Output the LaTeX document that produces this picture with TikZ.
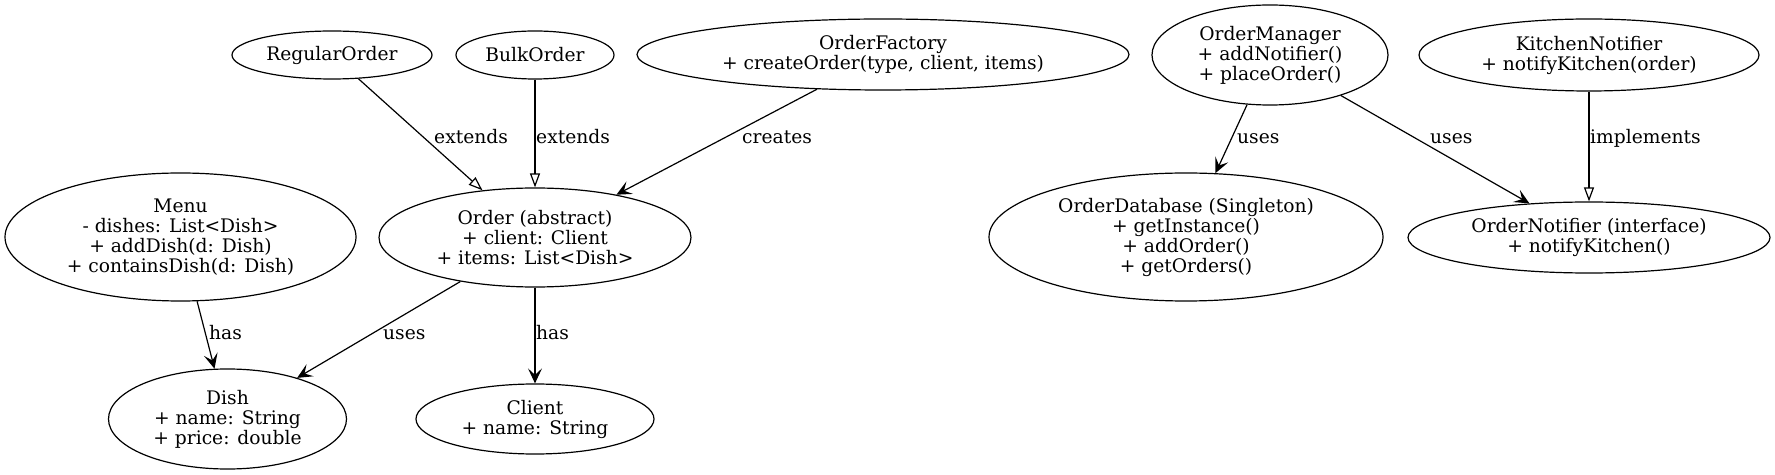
\documentclass[tikz,border=0pt]{standalone}
\usepackage{fontspec}
\setmainfont{DejaVu Serif}
\usetikzlibrary{shapes.geometric,arrows.meta}
\newcommand{\nodefont}{\fontsize{18.67bp}{20bp}\selectfont}
\tikzset{
  cls/.style={ellipse, draw, line width=1.2bp, inner sep=0pt, align=center, font=\nodefont},
  lbl/.style={anchor=base west, inner sep=0pt, font=\nodefont},
  conn/.style={line width=1.2bp},
  usesarrow/.style={conn, -{Stealth[length=15bp, width=14bp, inset=6.5bp]}},
  inherit/.style={conn, -{Triangle[open, length=14bp, width=10bp]}},
}
\begin{document}
\begin{tikzpicture}[x=1bp, y=-1bp]
\useasboundingbox (0,0) rectangle (1775,475);
% top row
\node[cls, minimum width=200bp, minimum height=48bp] (regular) at (332,55) {RegularOrder};
\node[cls, minimum width=158bp, minimum height=48bp] (bulk) at (535,55) {BulkOrder};
\node[cls, minimum width=492bp, minimum height=71bp] (factory) at (883,54.5) {OrderFactory\\+ createOrder(type, client, items)};
\node[cls, minimum width=236bp, minimum height=100bp] (manager) at (1270,55) {OrderManager\\+ addNotifier()\\+ placeOrder()};
\node[cls, minimum width=340bp, minimum height=72bp] (kitchen) at (1589,55) {KitchenNotifier\\+ notifyKitchen(order)};
% middle row
\node[cls, minimum width=351bp, minimum height=128bp] (menu) at (180.5,237) {Menu\\- dishes: List<Dish>\\+ addDish(d: Dish)\\+ containsDish(d: Dish)};
\node[cls, minimum width=312bp, minimum height=99bp] (order) at (535,237.5) {Order (abstract)\\+ client: Client\\+ items: List<Dish>};
\node[cls, minimum width=394bp, minimum height=128bp] (database) at (1186,237) {OrderDatabase (Singleton)\\+ getInstance()\\+ addOrder()\\+ getOrders()};
\node[cls, minimum width=362bp, minimum height=71bp] (notifier) at (1589,237.5) {OrderNotifier (interface)\\+ notifyKitchen()};
% bottom row
\node[cls, minimum width=238bp, minimum height=100bp] (dish) at (227.5,419) {Dish\\+ name: String\\+ price: double};
\node[cls, minimum width=238bp, minimum height=70bp] (client) at (535,419) {Client\\+ name: String};
% connectors
\draw[inherit] (regular) -- (order);
\draw[inherit] (bulk) -- (order);
\draw[usesarrow] (factory) -- (order);
\draw[usesarrow] (menu) -- (dish);
\draw[usesarrow] (order) -- (dish);
\draw[usesarrow] (order) -- (client);
\draw[usesarrow] (manager) -- (database);
\draw[usesarrow] (manager) -- (notifier);
\draw[inherit] (kitchen) -- (notifier);
% labels
\node[lbl] (l1) at (434,144) {extends};
\node[lbl] (l2) at (536,144) {extends};
\node[lbl] (l3) at (742,144) {creates};
\node[lbl] (l4) at (209,340) {has};
\node[lbl] (l5) at (383,340) {uses};
\node[lbl] (l6) at (536,340) {has};
\node[lbl] (l7) at (1237,144) {uses};
\node[lbl] (l8) at (1430,144) {uses};
\node[lbl] (l9) at (1590,144) {implements};
\end{tikzpicture}
\end{document}
